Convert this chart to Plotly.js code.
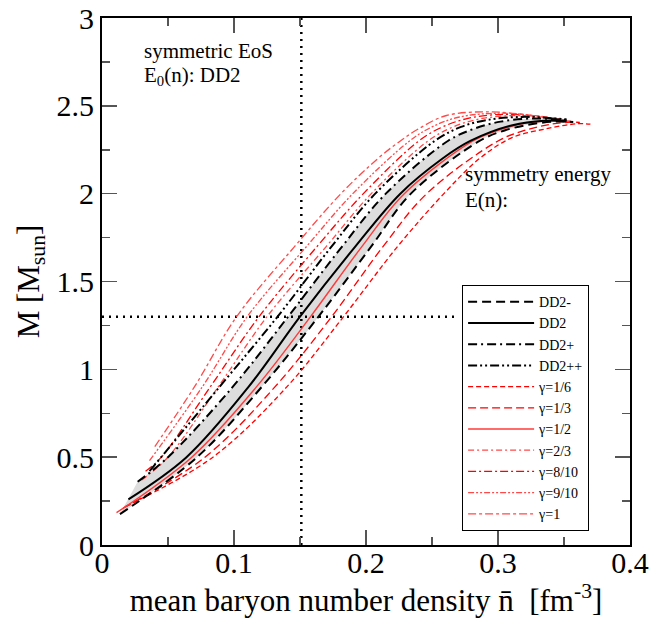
<!DOCTYPE html>
<html>
<head>
<meta charset="utf-8">
<script src="https://cdn.plot.ly/plotly-3.0.1.min.js"></script>
<style>html,body{margin:0;padding:0;background:#fff;}#plot{width:670px;height:627px;}</style>
</head>
<body>
<div id="plot"></div>
<script>
// ---- data (n: mean baryon density [fm^-3], M: mass [Msun]) ----
const n_DD2m  = [0.0136,0.072,0.121,0.164,0.204,0.234,0.286,0.305,0.325,0.343,0.357];
const M_DD2m  = [0.176, 0.50, 0.90, 1.30, 1.70, 2.00, 2.30, 2.36, 2.395,2.41, 2.408];
const n_DD2   = [0.020,0.064,0.111,0.150,0.192,0.226,0.258,0.279,0.311,0.335,0.352];
const M_DD2   = [0.26, 0.50, 0.90, 1.30, 1.70, 2.00, 2.20, 2.30, 2.39, 2.415,2.413];
const n_DD2p  = [0.027,0.050,0.099,0.141,0.182,0.215,0.262,0.282,0.302,0.325,0.352];
const M_DD2p  = [0.36, 0.50, 0.90, 1.30, 1.70, 2.00, 2.30, 2.37, 2.41, 2.428,2.42];
const n_DD2pp = [0.036,0.089,0.133,0.174,0.207,0.252,0.272,0.292,0.318,0.340,0.352];
const M_DD2pp = [0.42, 0.90, 1.30, 1.70, 2.00, 2.30, 2.38, 2.42, 2.437,2.43, 2.422];
const n_g16   = [0.018,0.084,0.140,0.183,0.224,0.259,0.286,0.311,0.337,0.360,0.370];
const M_g16   = [0.22, 0.50, 0.90, 1.30, 1.70, 2.00, 2.20, 2.32, 2.37, 2.398,2.396];
const n_g13   = [0.016,0.078,0.131,0.174,0.213,0.246,0.300,0.320,0.340,0.355,0.362];
const M_g13   = [0.21, 0.50, 0.90, 1.30, 1.70, 2.00, 2.30, 2.36, 2.395,2.407,2.405];
const n_g12   = [0.011,0.068,0.117,0.158,0.197,0.229,0.281,0.300,0.320,0.340,0.355];
const M_g12   = [0.184,0.50, 0.90, 1.30, 1.70, 2.00, 2.30, 2.36, 2.40, 2.415,2.412];
const n_g23   = [0.030,0.050,0.088,0.125,0.170,0.204,0.247,0.266,0.286,0.312,0.335,0.352];
const M_g23   = [0.37, 0.50, 0.90, 1.30, 1.70, 2.00, 2.30, 2.38, 2.425,2.445,2.435,2.418];
const n_g810  = [0.033,0.045,0.082,0.119,0.163,0.198,0.240,0.258,0.278,0.305,0.330,0.350];
const M_g810  = [0.42, 0.50, 0.90, 1.30, 1.70, 2.00, 2.30, 2.38, 2.43, 2.452,2.44, 2.42];
const n_g910  = [0.036,0.076,0.110,0.155,0.190,0.233,0.250,0.270,0.300,0.328,0.350];
const M_g910  = [0.48, 0.90, 1.30, 1.70, 2.00, 2.30, 2.38, 2.435,2.458,2.444,2.42];
const n_g1    = [0.040,0.070,0.102,0.146,0.181,0.209,0.226,0.240,0.261,0.294,0.324,0.350];
const M_g1    = [0.56, 0.90, 1.30, 1.70, 2.00, 2.20, 2.30, 2.37, 2.445,2.466,2.447,2.42];

const refDensity = 0.151;      // vertical dotted line
const refMass = 1.3;           // horizontal dotted line
const refMassLineEnd = 0.27;   // horizontal dotted line stops at the legend
const xRange = [0, 0.4];
const yRange = [0, 3];

const serif = 'Liberation Serif';

function curve(name, n, M, color, width, dash, rank) {
  return {type:'scatter', mode:'lines', name:name, x:n, y:M,
    line:{color:color, width:width, dash:dash, shape:'spline', smoothing:1},
    legendrank: rank, hoverinfo:'skip'};
}

const band = {type:'scatter', mode:'lines', x:n_DD2p.concat(n_DD2m.slice().reverse()),
  y:M_DD2p.concat(M_DD2m.slice().reverse()), fill:'toself', fillcolor:'#dddddd',
  line:{width:0, shape:'spline', smoothing:1}, showlegend:false, hoverinfo:'skip'};

const vline = {type:'scatter', mode:'lines', x:[refDensity, refDensity], y:yRange,
  line:{color:'black', width:2.5, dash:'2px,5px'}, showlegend:false, hoverinfo:'skip'};
const hline = {type:'scatter', mode:'lines', x:[xRange[0], refMassLineEnd], y:[refMass, refMass],
  line:{color:'black', width:2.5, dash:'2px,5px'}, showlegend:false, hoverinfo:'skip'};

const traces = [
  band, vline, hline,
  curve('γ=1/6',  n_g16,  M_g16,  '#ff0000', 1.3, '5px,3px', 5),
  curve('γ=1/3',  n_g13,  M_g13,  '#ff0000', 1.3, '8px,4px', 6),
  curve('γ=1/2',  n_g12,  M_g12,  '#ff3a3a', 1.4, 'solid', 7),
  curve('γ=2/3',  n_g23,  M_g23,  '#ff4a4a', 1.3, '6px,3px,2px,3px', 8),
  curve('γ=8/10', n_g810, M_g810, '#ff0000', 1.3, '8px,3px,2px,3px', 9),
  curve('γ=9/10', n_g910, M_g910, '#ff4a4a', 1.3, '6px,2px,2px,2px,2px,2px', 10),
  curve('γ=1',    n_g1,   M_g1,   '#ff4a4a', 1.3, '8px,3px,3px,3px', 11),
  curve('DD2-',   n_DD2m, M_DD2m, '#000000', 2, '9px,5px', 1),
  curve('DD2',    n_DD2,  M_DD2,  '#000000', 2, 'solid', 2),
  curve('DD2+',   n_DD2p, M_DD2p, '#000000', 2, '9px,4px,2px,4px', 3),
  curve('DD2++',  n_DD2pp,M_DD2pp,'#000000', 2, '9px,3px,2px,3px,2px,3px', 4)
];

const axisCommon = {
  showgrid:false, zeroline:false, showline:true, linecolor:'black', linewidth:2,
  mirror:'ticks', ticks:'inside', ticklen:15, tickwidth:1.5, tickcolor:'#555',
  tickfont:{family:serif, size:30, color:'black'}
};

const layout = {
  width:670, height:627,
  margin:{l:102, r:40, t:18, b:82},
  paper_bgcolor:'white', plot_bgcolor:'white',
  font:{family:serif, color:'black'},
  showlegend:true,
  legend:{x:0.682, y:0.493, xanchor:'left', yanchor:'top', bgcolor:'white',
    bordercolor:'black', borderwidth:1, font:{family:serif, size:14, color:'black'},
    itemwidth:66, traceorder:'normal', tracegroupgap:0},
  xaxis:Object.assign({}, axisCommon, {range:xRange, tick0:0, dtick:0.1,
    minor:{dtick:0.05, ticks:'inside', ticklen:8, tickwidth:1.5, tickcolor:'#555'},
    ticklabelstandoff:-10,
    title:{text:'mean baryon number density n\u0304  [fm<sup>-3</sup>]', font:{family:serif, size:31, color:'black'}, standoff:4}}),
  yaxis:Object.assign({}, axisCommon, {range:yRange, tick0:0, dtick:0.5,
    minor:{dtick:0.25, ticks:'inside', ticklen:8, tickwidth:1.5, tickcolor:'#555'},
    title:{text:'M [M<sub>sun</sub>]', font:{family:serif, size:31, color:'black'}, standoff:8}}),
  annotations:[
    {xref:'x', yref:'y', x:0.030, y:2.81, xanchor:'left', yanchor:'middle', showarrow:false,
     text:'symmetric EoS', font:{family:serif, size:21, color:'black'}},
    {xref:'x', yref:'y', x:0.030, y:2.67, xanchor:'left', yanchor:'middle', showarrow:false,
     text:'E<sub>0</sub>(n): DD2', font:{family:serif, size:21, color:'black'}},
    {xref:'x', yref:'y', x:0.2735, y:2.11, xanchor:'left', yanchor:'middle', showarrow:false,
     text:'symmetry energy', font:{family:serif, size:21, color:'black'}},
    {xref:'x', yref:'y', x:0.2735, y:1.965, xanchor:'left', yanchor:'middle', showarrow:false,
     text:'E(n):', font:{family:serif, size:21, color:'black'}}
  ]
};

Plotly.newPlot('plot', traces, layout, {displayModeBar:false, staticPlot:true});
</script>
</body>
</html>
